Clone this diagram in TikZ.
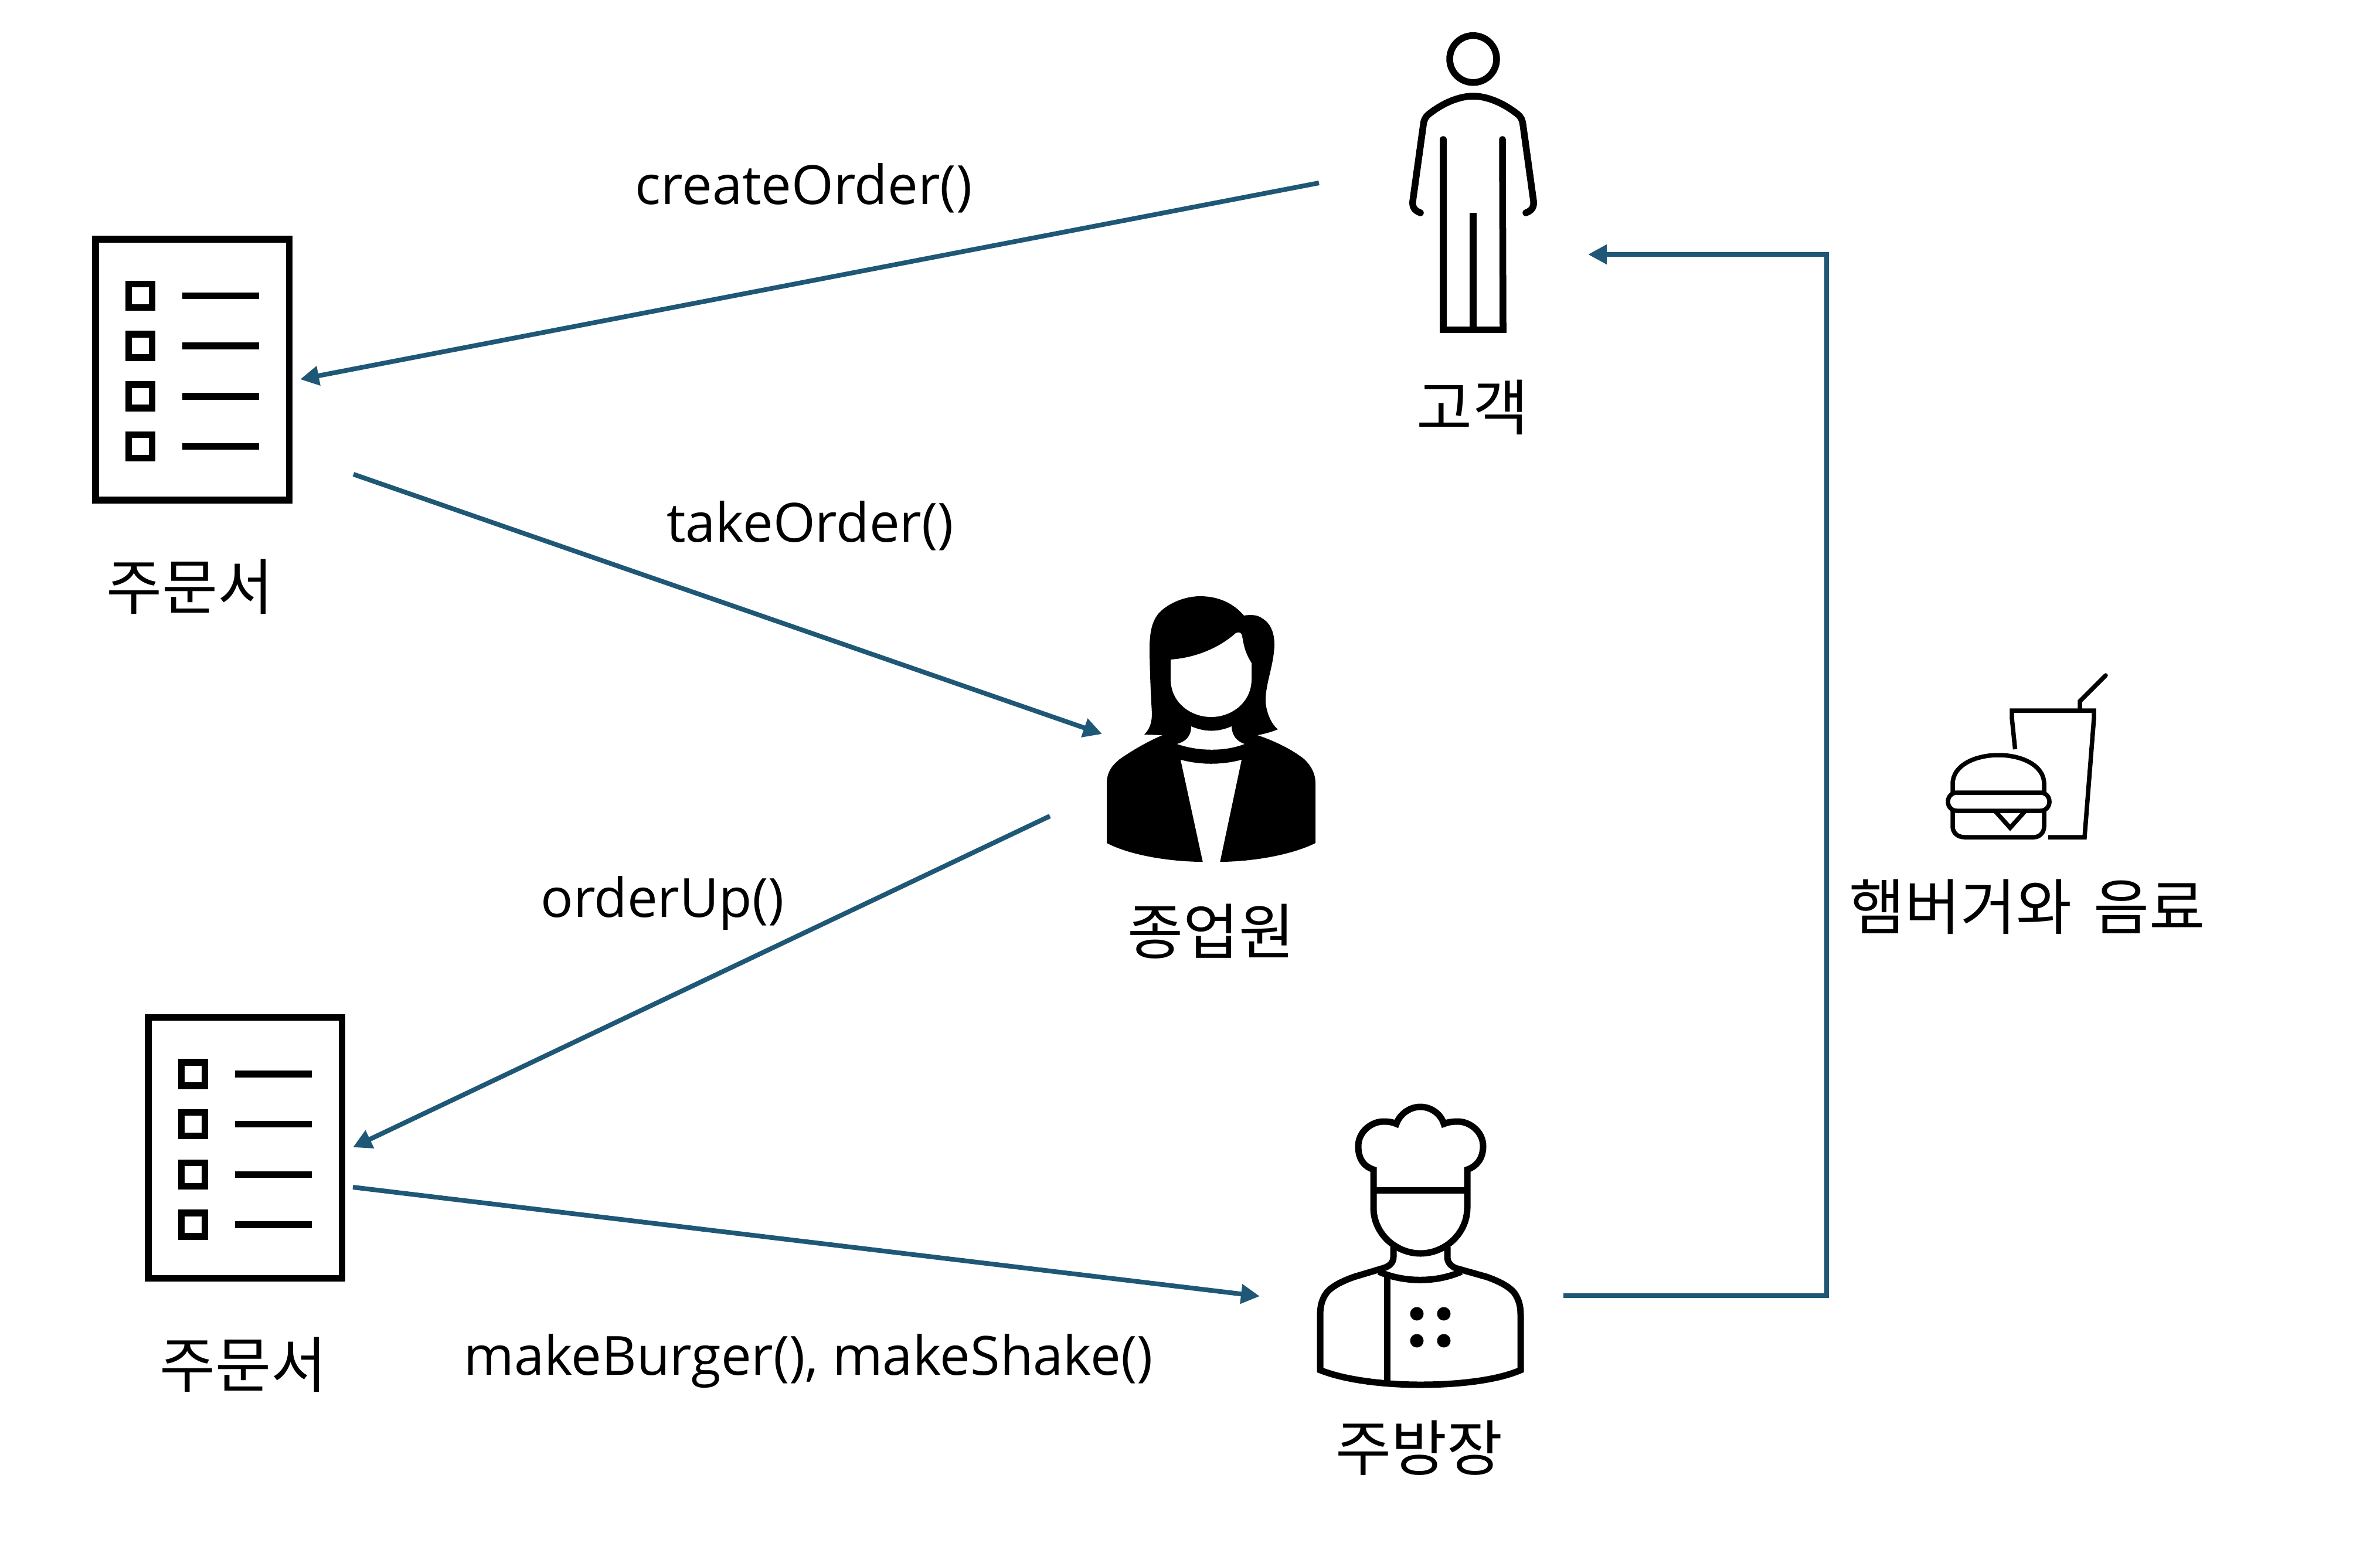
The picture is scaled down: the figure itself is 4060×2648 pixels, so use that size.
\documentclass[tikz,border=0pt]{standalone}
\usepackage{fontspec}
\setmainfont{Open Sans}
\newfontfamily\kofont{Noto Sans CJK KR}
\usetikzlibrary{arrows.meta}
\definecolor{flowblue}{HTML}{1F5776}
\tikzset{
  flow/.style={draw=flowblue, line width=0.08cm, -{Triangle[length=0.32cm,width=0.32cm]}},
  icon/.style={line width=0.115cm},
  chef icon/.style={line width=0.11cm},
  thin icon/.style={line width=0.075cm},
  txt/.style={font=\fontsize{26.2}{32}\selectfont, inner sep=0pt, text=black},
  kotxt/.style={font=\fontsize{29.4}{34}\selectfont\kofont, inner sep=0pt, text=black},
  orderform/.pic={
    \draw[icon] (6,6) rectangle (336.5,451);
    \foreach \y in {102.5,188,273.8,359.6} {
      \draw[icon] (62.5,\y-20) rectangle (102.5,\y+20);
      \draw[icon] (154,\y) -- (285,\y);
    }
  }
}
\begin{document}
\begin{tikzpicture}[x=0.01cm, y=-0.01cm]
  \useasboundingbox (0,0) rectangle (4060,2648);

  % customer
  \draw[icon] (2513,100.7) circle (40);
  \draw[icon, line cap=round] (2423,363) .. controls (2412,359) and (2409,352) .. (2410,343)
    -- (2428,213) .. controls (2429,205) and (2431,200) .. (2437,195)
    .. controls (2462,175) and (2490,164) .. (2513,164)
    .. controls (2536,164) and (2564,175) .. (2589,195)
    .. controls (2595,200) and (2597,205) .. (2598,213)
    -- (2616,343) .. controls (2617,352) and (2614,359) .. (2603,363);
  \draw[icon, line cap=round] (2462,238) -- (2462,562);
  \draw[icon, line cap=round] (2563,238) -- (2564,562);
  \draw[icon] (2456,562.5) -- (2570,562.5);
  \draw[icon] (2513,363) -- (2513,562);
  \node[kotxt] (customer) at (2512,695) {고객};

  % order forms
  \pic at (157,402) {orderform};
  \node[kotxt] (formA) at (324,1001) {주문서};
  \pic at (247,1729.5) {orderform};
  \node[kotxt] (formB) at (415,2328) {주문서};

  % waitress
  \fill (1888,1438) -- (1888,1337) .. controls (1888,1319) and (1895,1307) .. (1910,1295)
    .. controls (1930,1281) and (1955,1266) .. (1983,1254) -- (1952,1253)
    .. controls (1962,1243) and (1965,1231) .. (1965,1217)
    .. controls (1963,1180) and (1961,1140) .. (1961,1100)
    .. controls (1962,1075) and (1966,1060) .. (1975,1048)
    .. controls (1990,1030) and (2020,1017) .. (2047,1017)
    .. controls (2080,1017) and (2105,1030) .. (2122,1050)
    .. controls (2135,1048) and (2145,1049) .. (2152,1054)
    .. controls (2168,1063) and (2174,1080) .. (2174,1100)
    .. controls (2173,1135) and (2159,1165) .. (2159,1194)
    .. controls (2159,1215) and (2170,1237) .. (2180,1244)
    .. controls (2168,1249) and (2156,1252) .. (2145,1254)
    .. controls (2175,1264) and (2205,1279) .. (2225,1295)
    .. controls (2237,1307) and (2244,1319) .. (2244,1337)
    -- (2244,1438) .. controls (2200,1460) and (2130,1470) .. (2081,1470)
    -- (2052,1470) .. controls (2000,1470) and (1930,1460) .. (1888,1438) -- cycle;
  \fill[white] (1997,1125) .. controls (2040,1122) and (2080,1105) .. (2108,1080)
    .. controls (2113,1077) and (2118,1079) .. (2119,1085)
    .. controls (2122,1105) and (2126,1117) .. (2135,1131)
    -- (2135,1158) .. controls (2135,1199) and (2100,1223) .. (2066,1223)
    .. controls (2032,1223) and (1997,1199) .. (1997,1158) -- cycle;
  \fill[white] (2032,1239) .. controls (2055,1249) and (2078,1249) .. (2101,1239)
    .. controls (2101,1254) and (2110,1265) .. (2123,1269)
    .. controls (2090,1282) and (2045,1282) .. (2008,1269)
    .. controls (2022,1265) and (2032,1257) .. (2032,1239) -- cycle;
  \fill[white] (2014,1296) .. controls (2048,1305) and (2084,1305) .. (2118,1296)
    -- (2081,1471) -- (2052,1471) -- cycle;
  \node[kotxt] (waitress) at (2066,1589) {종업원};

  % chef
  \draw[chef icon] (2343,1995) .. controls (2325,1989) and (2317,1975) .. (2317,1955)
    .. controls (2317,1930) and (2340,1913) .. (2360,1913)
    .. controls (2368,1913) and (2376,1914) .. (2382,1917)
    .. controls (2388,1900) and (2405,1888) .. (2423,1888)
    .. controls (2441,1888) and (2458,1900) .. (2463,1917)
    .. controls (2470,1914) and (2478,1913) .. (2487,1913)
    .. controls (2507,1913) and (2530,1930) .. (2530,1955)
    .. controls (2530,1975) and (2520,1989) .. (2503,1995)
    -- (2503,2060) .. controls (2503,2104) and (2465,2138) .. (2423,2138)
    .. controls (2381,2138) and (2343,2104) .. (2343,2060) -- cycle;
  \draw[chef icon] (2343,2030) -- (2503,2030);
  \draw[chef icon] (2377,2127) -- (2377,2144) .. controls (2377,2154) and (2370,2160) .. (2360,2163)
    -- (2310,2178) .. controls (2290,2185) and (2272,2194) .. (2263,2205)
    .. controls (2255,2216) and (2252,2228) .. (2252,2243) -- (2252,2337)
    .. controls (2300,2356) and (2370,2362) .. (2423,2362)
    .. controls (2480,2362) and (2550,2356) .. (2594,2337)
    -- (2594,2243) .. controls (2594,2228) and (2591,2216) .. (2583,2205)
    .. controls (2574,2194) and (2556,2185) .. (2536,2178)
    -- (2483,2163) .. controls (2476,2160) and (2469,2154) .. (2469,2144) -- (2469,2127);
  \draw[chef icon] (2352,2169) .. controls (2395,2188) and (2450,2188) .. (2493,2169);
  \draw[chef icon] (2366,2176) -- (2366,2358);
  \foreach \x/\y in {2417/2241,2463/2241,2417/2287,2463/2287}
    \fill (\x,\y) circle (11.5);
  \node[kotxt] (chef) at (2421,2470) {주방장};

  % burger and drink
  \draw[thin icon] (3437.5,1278) -- (3432,1225) -- (3432,1212) -- (3572,1212) -- (3572,1225)
    -- (3556,1428) -- (3494,1428);
  \draw[thin icon, line cap=round] (3548,1209) -- (3548,1196) -- (3592,1152);
  \draw[thin icon] (3331,1352) -- (3331,1337) .. controls (3331,1305) and (3370,1288) .. (3409,1288)
    .. controls (3448,1288) and (3487,1305) .. (3487,1337) -- (3487,1352);
  \draw[thin icon, rounded corners=0.15cm] (3323,1352) rectangle (3496,1383);
  \draw[thin icon] (3331,1383) -- (3331,1410) .. controls (3331,1420) and (3339,1428) .. (3351,1428)
    -- (3470,1428) .. controls (3479,1428) and (3487,1420) .. (3487,1410) -- (3487,1383);
  \draw[thin icon] (3403,1383) -- (3429,1412) -- (3455,1383);
  \node[kotxt] (food) at (3458,1547) {햄버거와\hspace{0.13cm} 음료};

  % method labels
  \node[txt] (createOrder) at (1371,321) {createOrder()};
  \node[txt] (takeOrder) at (1382,897) {takeOrder()};
  \node[txt] (orderUp) at (1130,1541) {orderUp()};
  \node[txt] (makeFood) at (1379,2322) {makeBurger(), makeShake()};

  % connector ends
  \coordinate (custOut) at (2250,312);
  \coordinate (formAIn) at (512,647);
  \coordinate (formAOut) at (603,809);
  \coordinate (waitIn) at (1880,1252);
  \coordinate (waitOut) at (1791,1392);
  \coordinate (formBIn) at (602,1957);
  \coordinate (formBOut) at (602,2025);
  \coordinate (chefIn) at (2149,2211);
  \coordinate (chefOut) at (2667,2210);
  \coordinate (turnA) at (3116,2210);
  \coordinate (turnB) at (3116,434);
  \coordinate (custIn) at (2709,434);

  \draw[flow] (custOut) -- (formAIn);
  \draw[flow] (formAOut) -- (waitIn);
  \draw[flow] (waitOut) -- (formBIn);
  \draw[flow] (formBOut) -- (chefIn);
  \draw[flow] (chefOut) -- (turnA) -- (turnB) -- (custIn);
\end{tikzpicture}
\end{document}
